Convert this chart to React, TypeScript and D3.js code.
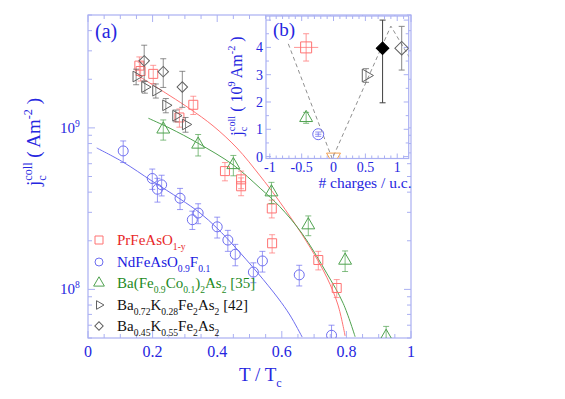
import React from "react";
import * as d3 from "d3";

// ---- main panel (a) data: T/Tc and jc (A/m^2) ----
const prT = [0.159, 0.163, 0.202, 0.283, 0.326, 0.424, 0.474, 0.474, 0.569, 0.57, 0.713, 0.77];
const prJ = [2.43e9, 2.25e9, 2.16e9, 1.16e9, 1.39e9, 5.4e8, 4.8e8, 4.35e8, 3.17e8, 1.93e8, 1.52e8, 1.02e8];
const prErr = [3.2e8, 3e8, 2.8e8, 1.5e8, 1.8e8, 7e7, 6e7, 5.5e7, 4e7, 2.5e7, 2e7, 1.3e7];

const ndT = [0.109, 0.199, 0.215, 0.228, 0.285, 0.323, 0.341, 0.4, 0.433, 0.456, 0.512, 0.54, 0.654, 0.754];
const ndJ = [7.2e8, 4.86e8, 4.17e8, 4.44e8, 3.67e8, 2.7e8, 2.97e8, 2.44e8, 2.02e8, 1.65e8, 1.28e8, 1.5e8, 1.23e8, 5.2e7];
const ndErr = [1.1e8, 7e7, 7e7, 6.5e7, 5.5e7, 3.5e7, 4.2e7, 3.6e7, 3e7, 2.5e7, 1.8e7, 2.2e7, 1.8e7, 8e6];

const coT = [0.233, 0.341, 0.45, 0.568, 0.682, 0.796, 0.923];
const coJ = [9.8e8, 7.9e8, 5.9e8, 4.0e8, 2.5e8, 1.51e8, 5.1e7];
const coErr = [1.4e8, 1.2e8, 8.5e7, 6e7, 3.5e7, 2.2e7, 8e6];

const k28T = [0.149, 0.176, 0.21, 0.241, 0.272, 0.302];
const k28J = [2.08e9, 1.79e9, 1.7e9, 1.38e9, 1.19e9, 1.05e9];
const k28Err = [2.3e8, 1.5e8, 1.7e8, 1.4e8, 1.0e8, 1.1e8];

const k55T = [0.174, 0.233, 0.292];
const k55J = [2.6e9, 2.23e9, 1.79e9];
const k55Err = [6.5e8, 4.5e8, 4.5e8];

// fit curves
const prFitT = [0.151, 0.254, 0.316, 0.387, 0.461, 0.533, 0.585, 0.635, 0.687, 0.74, 0.774, 0.796];
const prFitJ = [2.13e9, 1.58e9, 1.31e9, 1.03e9, 7.51e8, 5.04e8, 3.68e8, 2.65e8, 1.83e8, 1.18e8, 8.0e7, 5.15e7];
const coFitT = [0.187, 0.254, 0.341, 0.45, 0.533, 0.594, 0.662, 0.739, 0.79, 0.827];
const coFitJ = [1.147e9, 9.94e8, 8.03e8, 5.89e8, 4.23e8, 3.25e8, 2.23e8, 1.26e8, 8.2e7, 5.09e7];
const ndFitT = [0.027, 0.108, 0.198, 0.285, 0.347, 0.399, 0.455, 0.526, 0.588, 0.625, 0.663];
const ndFitJ = [7.51e8, 6.15e8, 4.69e8, 3.63e8, 2.97e8, 2.4e8, 1.83e8, 1.26e8, 8.85e7, 6.94e7, 5.07e7];

const xTicks = [0, 0.2, 0.4, 0.6, 0.8, 1];
const xTickLabels = ["0", "0.2", "0.4", "0.6", "0.8", "1"];

// ---- inset (b) data: charges per u.c. vs jc (1e9 A/m^2) ----
const inQ = [-0.43, -0.43, -0.24, 0.0, 0.51, 0.77, 1.07];
const inJ = [4.0, 1.42, 0.82, -0.02, 2.97, 3.97, 3.97];
const inJErrLo = [0.5, 0.2, 0.08, 0, 0.25, 2.0, 0.8];
const inJErrHi = [0.5, 0.2, 0.08, 0, 0.25, 1.03, 0.8];
const inQErr = [0.19, 0, 0.05, 0, 0, 0, 0];
const inGuideQ = [-0.71, -0.02, 0.9, 1.2];
const inGuideJ = [4.13, -0.08, 4.78, 3.6];
const inXTicks = [-1, -0.5, 0, 0.5, 1];
const inYTicks = [0, 1, 2, 3, 4];

const FONT = '"Liberation Serif", "Times New Roman", Times, "Nimbus Roman", serif';
const FRAME = "#aab0f2";
const TXT = "#2626e0";
const RED = "#ff7373";
const BLUE = "#6e6ef0";
const GREEN = "#4fa24f";
const GREY = "#606060";
const ORANGE = "#f2a050";

type Part = { t: string; s?: "sub" | "sup"; dx?: number };

function rich(parts: Part[], fs: number) {
  let cur = 0;
  return parts.map((p, i) => {
    const target = p.s === "sub" ? fs * 0.32 : p.s === "sup" ? -fs * 0.42 : 0;
    const dy = target - cur;
    cur = target;
    return (
      <tspan key={i} dy={dy} dx={p.dx || 0} fontSize={p.s ? fs * 0.64 : fs}>
        {p.t}
      </tspan>
    );
  });
}

const W = 565;
const H = 399;
const L = 88, R = 411, T = 15, B = 338;

const x = d3.scaleLinear().domain([0, 1]).range([L, R]);
const y = d3.scaleLog().domain([5e7, 5e9]).range([B, T]);

const IL = 266, IR = 408.7, IT = 16, IB = 158.5;
const ix = d3.scaleLinear().domain([-1.06, 1.18]).range([IL, IR]);
const iy = d3.scaleLinear().domain([-0.07, 5.15]).range([IB, IT]);

const sym = (type: d3.SymbolType, size: number) => d3.symbol().type(type).size(size)() || "";

type Shape = "square" | "circle" | "tri" | "right" | "diamond" | "down";
function marker(shape: Shape, s: number) {
  switch (shape) {
    case "square":
      return { d: sym(d3.symbolSquare, s * s), rot: 0 };
    case "circle":
      return { d: sym(d3.symbolCircle, (Math.PI * s * s) / 4), rot: 0 };
    case "tri":
      return { d: sym(d3.symbolTriangle, s * s * 0.5), rot: 0 };
    case "right":
      return { d: sym(d3.symbolTriangle, s * s * 0.5), rot: 90 };
    case "down":
      return { d: sym(d3.symbolTriangle, s * s * 0.5), rot: 180 };
    case "diamond":
      return { d: sym(d3.symbolSquare, s * s * 0.55), rot: 45 };
  }
}

function Series({ t, j, err, shape, color, size }: { t: number[]; j: number[]; err: number[]; shape: Shape; color: string; size: number }) {
  const m = marker(shape, size);
  return (
    <g>
      {t.map((tv, i) => {
        const cx = x(tv);
        const y1 = y(Math.max(j[i] - err[i], 1e7));
        const y2 = y(j[i] + err[i]);
        return (
          <g key={i} stroke={color} strokeWidth={1} fill="none">
            <line x1={cx} x2={cx} y1={y1} y2={y2} opacity={0.7} />
            <line x1={cx - 3} x2={cx + 3} y1={y1} y2={y1} opacity={0.7} />
            <line x1={cx - 3} x2={cx + 3} y1={y2} y2={y2} opacity={0.7} />
            <path d={m.d} transform={`translate(${cx},${y(j[i])}) rotate(${m.rot})`} fill="none" />
          </g>
        );
      })}
    </g>
  );
}

const legendRows: { shape: Shape; color: string; text: string; parts: Part[] }[] = [
  { shape: "square", color: RED, text: "#e82828", parts: [{ t: "PrFeAsO" }, { t: "1-y", s: "sub" }] },
  { shape: "circle", color: BLUE, text: "#2020e0", parts: [{ t: "NdFeAsO" }, { t: "0.9", s: "sub" }, { t: "F" }, { t: "0.1", s: "sub" }] },
  {
    shape: "tri", color: GREEN, text: "#1e8a1e",
    parts: [{ t: "Ba(Fe" }, { t: "0.9", s: "sub" }, { t: "Co" }, { t: "0.1", s: "sub" }, { t: ")" }, { t: "2", s: "sub" }, { t: "As" }, { t: "2", s: "sub" }, { t: " [35]" }],
  },
  {
    shape: "right", color: GREY, text: "#111",
    parts: [{ t: "Ba" }, { t: "0.72", s: "sub" }, { t: "K" }, { t: "0.28", s: "sub" }, { t: "Fe" }, { t: "2", s: "sub" }, { t: "As" }, { t: "2", s: "sub" }, { t: " [42]" }],
  },
  {
    shape: "diamond", color: GREY, text: "#111",
    parts: [{ t: "Ba" }, { t: "0.45", s: "sub" }, { t: "K" }, { t: "0.55", s: "sub" }, { t: "Fe" }, { t: "2", s: "sub" }, { t: "As" }, { t: "2", s: "sub" }],
  },
];
const legendY = [240, 262, 283, 305, 326];

export default function App() {
  const fitLine = d3
    .line<[number, number]>()
    .x((d) => x(d[0]))
    .y((d) => y(d[1]))
    .curve(d3.curveCatmullRom);
  const inLine = d3
    .line<[number, number]>()
    .x((d) => ix(d[0]))
    .y((d) => iy(d[1]));

  const minorX = d3.range(0, 1.0001, 0.05);
  const logTicks: number[] = [];
  for (let e = 7; e <= 9; e++) for (let k = 1; k <= 9; k++) {
    const v = k * Math.pow(10, e);
    if (v >= 5e7 && v <= 5e9) logTicks.push(v);
  }
  const inMinorX = d3.range(-1, 1.15, 0.1);
  const inMinorY = d3.range(0, 5.01, 0.5);

  const inShapes: { shape: Shape; color: string; size: number; fill?: string }[] = [
    { shape: "square", color: RED, size: 11 },
    { shape: "tri", color: GREEN, size: 12 },
    { shape: "circle", color: BLUE, size: 11 },
    { shape: "down", color: ORANGE, size: 13 },
    { shape: "right", color: GREY, size: 12 },
    { shape: "diamond", color: "#000", size: 12, fill: "#000" },
    { shape: "diamond", color: GREY, size: 13 },
  ];

  return (
    <svg width={W} height={H} style={{ position: "absolute", left: 0, top: 0, background: "#fff", fontFamily: FONT }}>
      <defs>
        <clipPath id="plotClip">
          <rect x={L} y={T} width={R - L} height={B - T} />
        </clipPath>
        <clipPath id="inClip">
          <rect x={IL} y={IT} width={IR - IL} height={IB - IT} />
        </clipPath>
      </defs>

      {/* frame + ticks of (a) */}
      <rect x={L} y={T} width={R - L} height={B - T} fill="none" stroke={FRAME} strokeWidth={1.2} />
      <g stroke={FRAME} strokeWidth={1}>
        {minorX.map((v, i) => {
          const major = Math.abs(v * 5 - Math.round(v * 5)) < 1e-6;
          const len = major ? 7 : 4;
          return (
            <g key={i}>
              <line x1={x(v)} x2={x(v)} y1={B} y2={B - len} />
              <line x1={x(v)} x2={x(v)} y1={T} y2={T + len} />
            </g>
          );
        })}
        {logTicks.map((v, i) => {
          const major = v === 1e8 || v === 1e9;
          const len = major ? 7 : 4;
          return (
            <g key={i}>
              <line x1={L} x2={L + len} y1={y(v)} y2={y(v)} />
              <line x1={R} x2={R - len} y1={y(v)} y2={y(v)} />
            </g>
          );
        })}
      </g>

      {xTicks.map((v, i) => (
        <text key={i} x={x(v)} y={357} textAnchor="middle" fontSize={16} fill={TXT}>
          {xTickLabels[i]}
        </text>
      ))}
      {[8, 9].map((e) => (
        <text key={e} x={60} y={y(Math.pow(10, e)) + 5} fontSize={15} fill={TXT}>
          {rich([{ t: "10" }, { t: String(e), s: "sup" }], 15)}
        </text>
      ))}

      <text x={239} y={381} fontSize={19} fill={TXT}>
        {rich([{ t: "T / T" }, { t: "c", s: "sub" }], 19)}
      </text>
      <text transform="translate(40,142) rotate(-90)" textAnchor="middle" fontSize={19} fill={TXT}>
        {rich([{ t: "j" }, { t: "c", s: "sub" }, { t: "coll", s: "sup", dx: -5.4 }, { t: " ( Am" }, { t: "-2", s: "sup" }, { t: " )" }], 19)}
      </text>
      <text x={95} y={38} fontSize={20} fill={TXT}>(a)</text>

      {/* data of (a) */}
      <g clipPath="url(#plotClip)">
        <path d={fitLine(prFitT.map((t, i) => [t, prFitJ[i]] as [number, number])) || ""} fill="none" stroke={RED} strokeWidth={1} />
        <path d={fitLine(coFitT.map((t, i) => [t, coFitJ[i]] as [number, number])) || ""} fill="none" stroke={GREEN} strokeWidth={1} />
        <path d={fitLine(ndFitT.map((t, i) => [t, ndFitJ[i]] as [number, number])) || ""} fill="none" stroke={BLUE} strokeWidth={1} />
        <Series t={prT} j={prJ} err={prErr} shape="square" color={RED} size={9} />
        <Series t={ndT} j={ndJ} err={ndErr} shape="circle" color={BLUE} size={10} />
        <Series t={coT} j={coJ} err={coErr} shape="tri" color={GREEN} size={12} />
        <Series t={k28T} j={k28J} err={k28Err} shape="right" color={GREY} size={10} />
        <Series t={k55T} j={k55J} err={k55Err} shape="diamond" color={GREY} size={10} />
      </g>

      {/* legend */}
      {legendRows.map((row, i) => {
        const m = marker(row.shape, row.shape === "tri" ? 10 : 8);
        return (
          <g key={i}>
            <path d={m.d} transform={`translate(99,${legendY[i]}) rotate(${m.rot})`} fill="none" stroke={row.color} />
            <text x={117} y={legendY[i] + 5} fontSize={15} fill={row.text}>
              {rich(row.parts, 15)}
            </text>
          </g>
        );
      })}

      {/* inset (b) */}
      <rect x={IL} y={IT} width={IR - IL} height={IB - IT} fill="#fff" stroke={FRAME} strokeWidth={1.2} />
      <g stroke={FRAME} strokeWidth={1}>
        {inMinorX.map((v, i) => {
          const major = Math.abs(v * 2 - Math.round(v * 2)) < 1e-6;
          const len = major ? 5 : 3;
          return (
            <g key={i}>
              <line x1={ix(v)} x2={ix(v)} y1={IB} y2={IB - len} />
              <line x1={ix(v)} x2={ix(v)} y1={IT} y2={IT + len} />
            </g>
          );
        })}
        {inMinorY.map((v, i) => {
          const major = Math.abs(v - Math.round(v)) < 1e-6;
          const len = major ? 5 : 3;
          return (
            <g key={i}>
              <line x1={IL} x2={IL + len} y1={iy(v)} y2={iy(v)} />
              <line x1={IR} x2={IR - len} y1={iy(v)} y2={iy(v)} />
            </g>
          );
        })}
      </g>
      {inXTicks.map((v) => (
        <text key={v} x={ix(v)} y={172} textAnchor="middle" fontSize={14} fill={TXT}>
          {String(v)}
        </text>
      ))}
      {inYTicks.map((v) => (
        <text key={v} x={263} y={iy(v) + 5} textAnchor="end" fontSize={14} fill={TXT}>
          {v}
        </text>
      ))}
      <text x={365} y={188} textAnchor="middle" fontSize={15.5} fill={TXT}># charges / u.c.</text>
      <text transform="translate(242,86) rotate(-90)" textAnchor="middle" fontSize={16} fill={TXT}>
        {rich([{ t: "j" }, { t: "c", s: "sub" }, { t: "coll", s: "sup", dx: -4.5 }, { t: " ( 10" }, { t: "9", s: "sup" }, { t: " Am" }, { t: "-2", s: "sup" }, { t: " )" }], 16)}
      </text>
      <text x={273} y={36} fontSize={19} fill={TXT}>(b)</text>

      <g clipPath="url(#inClip)">
        <path
          d={inLine(inGuideQ.map((q, i) => [q, inGuideJ[i]] as [number, number])) || ""}
          fill="none"
          stroke="#909090"
          strokeWidth={1}
          strokeDasharray="4,3"
        />
        {inQ.map((q, i) => {
          const st = inShapes[i];
          const m = marker(st.shape, st.size);
          const cx = ix(q);
          const cy = iy(inJ[i]);
          const lo = iy(inJ[i] - inJErrLo[i]);
          const hi = iy(inJ[i] + inJErrHi[i]);
          return (
            <g key={i} stroke={st.color} strokeWidth={1} fill="none">
              {inJErrLo[i] > 0 && (
                <g opacity={0.75}>
                  <line x1={cx} x2={cx} y1={lo} y2={hi} />
                  <line x1={cx - 3} x2={cx + 3} y1={lo} y2={lo} />
                  <line x1={cx - 3} x2={cx + 3} y1={hi} y2={hi} />
                </g>
              )}
              {inQErr[i] > 0 && (
                <g opacity={0.75}>
                  <line x1={ix(q - inQErr[i])} x2={ix(q + inQErr[i])} y1={cy} y2={cy} />
                </g>
              )}
              <path d={m.d} transform={`translate(${cx},${cy}) rotate(${m.rot})`} fill={st.fill || "none"} />
            </g>
          );
        })}
      </g>
    </svg>
  );
}
